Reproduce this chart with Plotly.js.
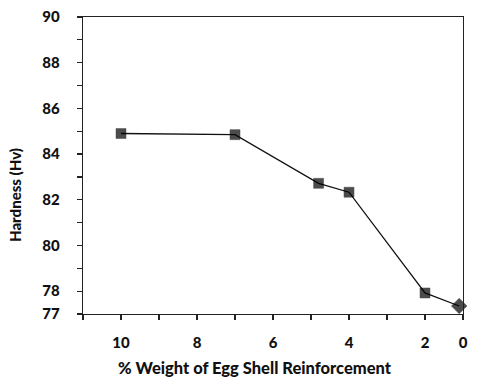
<!DOCTYPE html>
<html><head><meta charset="utf-8">
<script src="https://cdn.plot.ly/plotly-3.0.1.min.js"></script>
<style>html,body{margin:0;padding:0;background:#fff}#c{width:480px;height:387px}</style>
</head><body><div id="c"></div>
<script>
// x positions on the drawn scale (the "0" sample sits at axis position ~1)
const xPos = [10, 7, 4.8, 4, 2, 1.1];
const hardness = [84.9, 84.85, 82.72, 82.33, 77.92, 77.35];
const markerSymbols = ['square','square','square','square','square','diamond'];
const xTickVals = [10, 8, 6, 4, 2, 1];
const xTickText = ['10', '8', '6', '4', '2', '0'];
const yTickVals = [77, 78, 80, 82, 84, 86, 88, 90];
const xTitle = '% Weight of Egg Shell Reinforcement';
const yTitle = 'Hardness (Hv)';

const ff = 'Lato, "Open Sans", sans-serif';
const trace = {
  x: xPos, y: hardness, type: 'scatter', mode: 'lines+markers',
  line: {color: '#111', width: 1.3},
  marker: {color: '#000', symbol: markerSymbols, size: [10,10,10,10,10,12], line: {color: '#000', width: 0.5}},
  cliponaxis: false
};
const layout = {
  width: 480, height: 387,
  margin: {l: 83, r: 17, t: 17, b: 73},
  paper_bgcolor: '#fff', plot_bgcolor: '#fff',
  showlegend: false,
  font: {family: ff, size: 15, color: '#111'},
  xaxis: {
    range: [11, 1], showgrid: false, zeroline: false,
    showline: true, linecolor: '#222', linewidth: 1.3, mirror: true,
    ticks: 'outside', ticklen: 5, tickcolor: '#222', tickwidth: 1.2,
    tickvals: xTickVals, ticktext: xTickText,
    tickfont: {family: ff, size: 15, color: '#111', weight: 900},
    ticklabelstandoff: 10,
    minor: {dtick: 1, tick0: 1, ticks: 'outside', ticklen: 5, tickcolor: '#222', tickwidth: 1.2}
  },
  yaxis: {
    range: [77, 90], showgrid: false, zeroline: false,
    showline: true, linecolor: '#222', linewidth: 1.3, mirror: true,
    ticks: 'outside', ticklen: 5, tickcolor: '#222', tickwidth: 1.2,
    tickvals: yTickVals,
    tickfont: {family: ff, size: 15, color: '#111', weight: 900},
    ticklabelstandoff: 14,
    minor: {tickvals: [79, 81, 83, 85, 87, 89], ticks: 'outside', ticklen: 5, tickcolor: '#222', tickwidth: 1.2}
  },
  annotations: [
    {text: xTitle, xref: 'paper', yref: 'paper', x: (255 - 83) / 380, y: -(368 - 314) / 297,
     xanchor: 'center', yanchor: 'middle', showarrow: false,
     font: {family: ff, size: 16.5, color: '#111', weight: 900}},
    {text: yTitle, xref: 'paper', yref: 'paper', x: -(83 - 15) / 380, y: (314 - 195) / 297,
     xanchor: 'center', yanchor: 'middle', showarrow: false, textangle: -90,
     font: {family: ff, size: 15, color: '#111', weight: 900}}
  ]
};
Plotly.newPlot('c', [trace], layout, {displayModeBar: false, staticPlot: true});
</script></body></html>
